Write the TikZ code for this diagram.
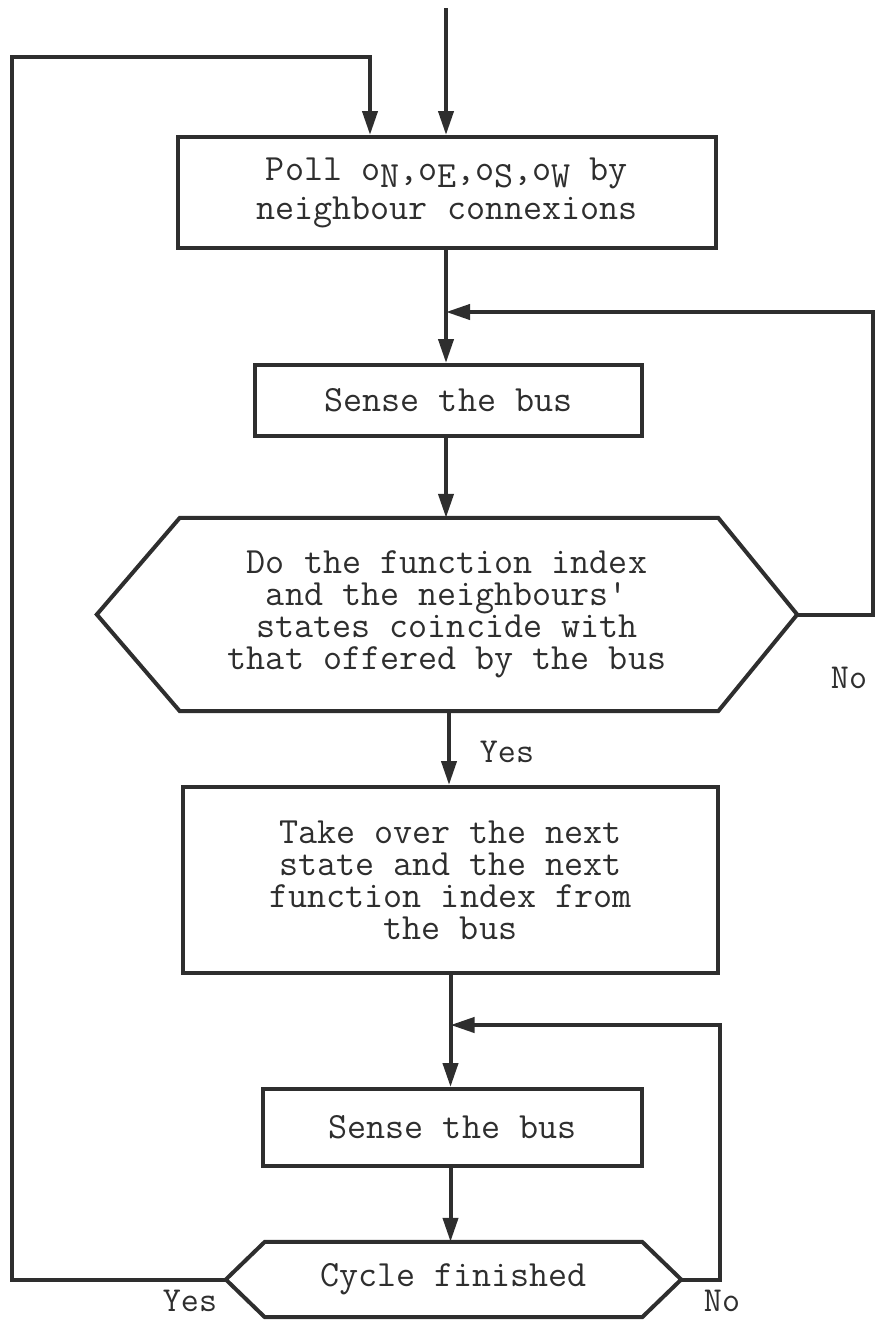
\documentclass[tikz,border=0pt]{standalone}
\usetikzlibrary{arrows.meta,calc}
\definecolor{ink}{HTML}{2E2E2E}
\newcommand{\lowsub}[1]{\raisebox{-0.2em}{#1}}
\tikzset{
  ink/.style={draw=ink,line width=4pt},
  flow/.style={ink,-{Triangle[length=24pt,width=15pt]},line join=miter},
  txt/.style={text=ink,font=\ttfamily\fontsize{37}{32}\selectfont,align=center},
  boxnode/.style={txt,ink,rectangle,inner sep=0pt},
  hexnode/.style={txt,draw=none,inner sep=0pt},
  lbl/.style={text=ink,font=\ttfamily\fontsize{35}{32}\selectfont,inner sep=0pt}
}
\begin{document}
\begin{tikzpicture}[x=1pt,y=-1pt]
\useasboundingbox (0,0) rectangle (876,1320);

% process boxes and decisions
\node[boxnode,minimum width=538pt,minimum height=111pt] (poll) at (447,192.5)
  {Poll o\lowsub{N},o\lowsub{E},o\lowsub{S},o\lowsub{W} by\\[7pt] neighbour connexions};
\node[boxnode,minimum width=387pt,minimum height=71pt] (sense1) at (448.5,400.5) {Sense the bus};
\node[hexnode,minimum width=700pt,minimum height=193pt] (match) at (447,614.5)
  {Do the function index\\and the neighbours'\\states coincide with\\that offered by the bus};
\draw[ink,line join=miter] ([xshift=83pt]match.north west) -- ([xshift=-79pt]match.north east)
  -- (match.east) -- ([xshift=-79pt]match.south east) -- ([xshift=83pt]match.south west)
  -- (match.west) -- cycle;
\node[boxnode,minimum width=535pt,minimum height=186pt] (take) at (450.5,880)
  {Take over the next\\state and the next\\function index from\\the bus};
\node[boxnode,minimum width=379pt,minimum height=77pt] (sense2) at (452.5,1127.5) {Sense the bus};
\node[hexnode,minimum width=455pt,minimum height=75pt] (cycle) at (453.5,1279.5) {Cycle finished};
\draw[ink,line join=miter] ([xshift=39pt]cycle.north west) -- ([xshift=-39pt]cycle.north east)
  -- (cycle.east) -- ([xshift=-39pt]cycle.south east) -- ([xshift=39pt]cycle.south west)
  -- (cycle.west) -- cycle;

% loose ends and bends of the connectors
\coordinate (entry) at (446,8);
\coordinate (lbend) at (12,57);
\coordinate (ltop) at (370,57);
\coordinate (rbend) at (873,312);
\coordinate (r2bend) at (720,1025);

% main flow
\draw[flow] (entry) -- (entry |- poll.north);
\draw[flow] (entry |- poll.south) -- (entry |- sense1.north);
\draw[flow] (entry |- sense1.south) -- (entry |- match.north);
\draw[flow] ([xshift=2pt]match.south) -- ([xshift=2pt]match.south |- take.north);
\draw[flow] (take.south) -- (take.south |- sense2.north);
\draw[flow] (take.south |- sense2.south) -- (take.south |- cycle.north);

% feedback loops
\draw[flow] (cycle.west) -| (lbend) -- (ltop) -- (ltop |- poll.north);
\draw[flow] (match.east) -| (rbend) -- (entry |- rbend);
\draw[flow] (cycle.east) -| (r2bend) -- (take.south |- r2bend);

% branch labels
\node[lbl] (noA) at (849,678) {No};
\node[lbl] (yesA) at (507,752) {Yes};
\node[lbl] (yesB) at (190,1301) {Yes};
\node[lbl] (noB) at (722,1301) {No};
\end{tikzpicture}
\end{document}
